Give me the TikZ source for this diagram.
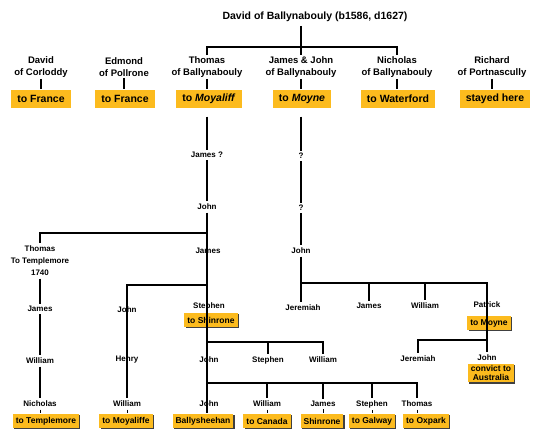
\documentclass[tikz,border=0pt]{standalone}
\usepackage{fontspec}
\setmainfont{Liberation Sans}
\usetikzlibrary{shadows}
\definecolor{boxorange}{RGB}{252,187,30}

\begin{document}
\begin{tikzpicture}[x=1pt, y=-1pt, line width=1.3pt,
	head/.style={font=\fontsize{10.5}{12}\selectfont\bfseries},
	gen/.style={font=\fontsize{9.5}{11.5}\selectfont\bfseries, align=center, inner sep=1pt},
	place/.style={fill=boxorange, font=\fontsize{10.5}{12}\selectfont\bfseries, minimum height=18pt, inner xsep=6pt},
	kin/.style={font=\fontsize{8}{12}\selectfont\bfseries, align=center, inner sep=2pt},
	tag/.style={fill=boxorange, font=\fontsize{8.5}{9.5}\selectfont\bfseries, align=center, minimum height=14pt, inner xsep=3pt, inner ysep=1.5pt,
		drop shadow={shadow xshift=1.2pt, shadow yshift=-1.2pt, fill=black!75, opacity=1}},
	tick/.style={line width=0.8pt}]
	\useasboundingbox (0,0) rectangle (550,434);

	% first generation
	\node[head] (david) at (315,17) {David of Ballynabouly (b1586, d1627)};
	\node[gen] (corloddy) at (41,67) {David\\of Corloddy};
	\node[gen] (pollrone) at (124,67) {Edmond\\of Pollrone};
	\node[gen] (thomas) at (207,67) {Thomas\\of Ballynabouly};
	\node[gen] (jamesjohn) at (301,67) {James \& John\\of Ballynabouly};
	\node[gen] (nicholas) at (397,67) {Nicholas\\of Ballynabouly};
	\node[gen] (richard) at (492,67) {Richard\\of Portnascully};
	\node[place] (france1) at (41,99) {to France};
	\node[place] (france2) at (125,99) {to France};
	\node[place] (moyaliff) at (209,99) {to \textit{Moyaliff}};
	\node[place] (moyne) at (302,99) {to \textit{Moyne}};
	\node[place] (waterford) at (398,99) {to Waterford};
	\node[place] (stayed) at (495,99) {stayed here};

	\coordinate (fork) at (301,47);
	\draw (david.south -| jamesjohn) -- (jamesjohn.north);
	\draw (thomas.north) |- (fork) -| (nicholas.north);
	\foreach \a/\b in {corloddy/france1, pollrone/france2, thomas/moyaliff, jamesjohn/moyne, nicholas/waterford, richard/stayed}
		\draw (\a.south) -- (\a.south |- \b.north);

	% Moyaliff line
	\node[kin] (jamesq) at (207,155) {James ?};
	\node[kin] (john1) at (207,207) {John};
	\node[kin] (james2) at (208,251) {James};
	\draw[shorten <=8pt] (moyaliff.south -| jamesq) -- (jamesq);
	\draw (jamesq) -- (john1);

	\coordinate (j1) at (207,233);
	\node[kin] (thomasT) at (40,261) {Thomas\\To Templemore\\1740};
	\node[kin] (jamesL) at (40,309) {James};
	\node[kin] (williamL) at (40,361) {William};
	\node[kin] (nicholasL) at (40,404) {Nicholas};
	\node[tag] (templemore) at (46,421) {to Templemore};
	\draw (j1) -| (thomasT.north);
	\draw (thomasT) -- (jamesL) -- (williamL) -- (nicholasL);
	\draw[tick] (nicholasL.south) -- (nicholasL.south |- templemore.north);

	\coordinate (j2) at (207,285);
	\node[kin] (johnM) at (127,310) {John};
	\node[kin] (henry) at (127,360) {Henry};
	\node[kin] (williamM) at (127,404) {William};
	\node[tag] (moyaliffe) at (126,421) {to Moyaliffe};
	\draw (j2) -| (williamM.north);
	\draw[tick] (williamM.south) -- (williamM.south |- moyaliffe.north);

	\node[kin] (stephen) at (209,306) {Stephen};
	\node[tag] (shinrone) at (211,320) {to Shinrone};

	\coordinate (j3) at (207,342);
	\node[kin] (johnG) at (209,360) {John};
	\node[kin] (stephenG) at (268,360) {Stephen};
	\node[kin] (williamG) at (323,360) {William};
	\draw (j3) -| (williamG.north);
	\draw (stephenG.north |- j3) -- (stephenG.north);

	\coordinate (j4) at (207,383);
	\node[kin] (johnB) at (209,404) {John};
	\node[kin] (williamB) at (267,404) {William};
	\node[kin] (jamesB) at (323,404) {James};
	\node[kin] (stephenB) at (372,404) {Stephen};
	\node[kin] (thomasB) at (417,404) {Thomas};
	\node[tag] (bally) at (203,421) {Ballysheehan};
	\node[tag] (canada) at (267,421) {to Canada};
	\node[tag] (shinrone2) at (322,421) {Shinrone};
	\node[tag] (galway) at (372,421) {to Galway};
	\node[tag] (oxpark) at (426,421) {to Oxpark};
	\draw (john1.south) -- (john1.south |- bally.north);
	\draw (j4) -| (thomasB.north);
	\foreach \n in {williamB, jamesB, stephenB}
		\draw (\n.north |- j4) -- (\n.north);
	\foreach \a/\b in {williamB/canada, jamesB/shinrone2, stephenB/galway, thomasB/oxpark}
		\draw[tick] (\a.south) -- (\a.south |- \b.north);

	% Moyne line
	\node[kin] (q1) at (301,156) {?};
	\node[kin] (q2) at (301,208) {?};
	\node[kin] (johnR) at (301,251) {John};
	\draw[shorten <=8pt] (moyne.south -| q1) -- (q1);
	\draw (q1) -- (q2) -- (johnR);

	\coordinate (j5) at (301,283);
	\node[kin] (jeremiah) at (303,308) {Jeremiah};
	\node[kin] (jamesR) at (369,306) {James};
	\node[kin] (williamR) at (425,306) {William};
	\node[kin] (patrick) at (487,305) {Patrick};
	\node[tag] (moyne2) at (489,323) {to Moyne};
	\node[kin] (jeremiah2) at (418,359) {Jeremiah};
	\node[kin] (johnA) at (487,358) {John};
	\node[tag] (convict) at (491,373) {convict to\\Australia};
	\draw (johnR) -- (j5) -| (johnA.north);
	\draw (j5) -- (j5 |- jeremiah.north);
	\foreach \n in {jamesR, williamR}
		\draw (\n.north |- j5) -- (\n.north);
	\coordinate (j6) at (487,340);
	\draw (j6) -| (jeremiah2.north);
\end{tikzpicture}
\end{document}
